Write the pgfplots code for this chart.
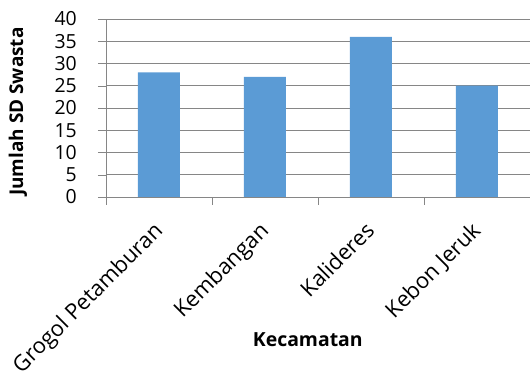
\documentclass[border=0pt]{standalone}
\usepackage{pgfplots}
\pgfplotsset{compat=1.18}
\usepackage{fontspec}
\setmainfont{Open Sans}
\usetikzlibrary{calc}
\definecolor{barblue}{HTML}{5B9BD5}
\definecolor{gridgray}{HTML}{868686}
\begin{document}
\begin{tikzpicture}
\begin{axis}[
  name=ax,
  scale only axis, width=424bp, height=178bp,
  xmin=-0.5, xmax=3.5, ymin=0, ymax=40,
  axis x line*=bottom, axis y line*=left,
  axis line style={draw=gridgray},
  ytick={0,5,...,40},
  ymajorgrids, grid style={draw=gridgray, line width=0.6pt},
  tick align=outside,
  major tick length=8bp,
  ytick style={draw=gridgray},
  xtick={0,1,2,3},
  xticklabels={Grogol Petamburan, Kembangan, Kalideres, Kebon Jeruk},
  major x tick style={draw=none},
  extra x ticks={-0.5,0.5,1.5,2.5},
  extra x tick labels={},
  extra x tick style={major x tick style={draw=gridgray}, grid=none},
  /pgf/number format/assume math mode=true,
  yticklabel style={font=\fontsize{19.5}{19.5}\selectfont, inner sep=0pt, xshift=-21bp},
  xticklabel style={font=\fontsize{22}{22}\selectfont, xshift=-7bp, yshift=-15bp, rotate=45, anchor=north east, inner sep=0pt},
  ylabel={\textbf{Jumlah SD Swasta}},
  ylabel style={font=\fontsize{19}{19}\selectfont, at={(axis description cs:-0.208,0.48)}, anchor=center, rotate=0},
  xlabel={\textbf{Kecamatan}},
  xlabel style={font=\fontsize{19.5}{19.5}\selectfont, at={(axis description cs:0.476,-0.803)}, anchor=center},
]
\addplot[ybar, bar width=42bp, bar shift=0pt, fill=barblue, draw=none]
  coordinates {(0,28) (1,27) (2,36) (3,25)};
\end{axis}
\pgfresetboundingbox
\path[use as bounding box] ($(ax.south west)+(-106bp,-184bp)$) rectangle ($(ax.north east)+(0bp,19bp)$);
\end{tikzpicture}
\end{document}
